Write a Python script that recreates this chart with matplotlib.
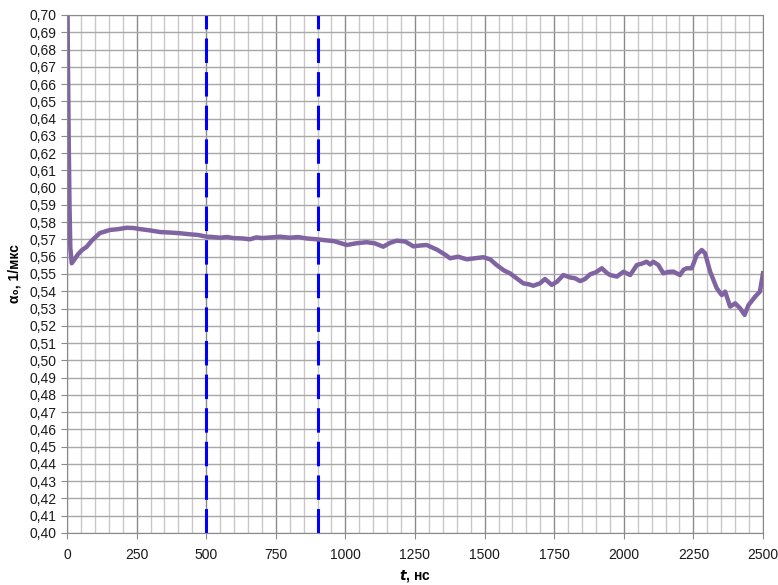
import numpy as np
import matplotlib.pyplot as plt
from matplotlib.ticker import MultipleLocator, FuncFormatter

# time, ns
t_ns = [0, 3, 6, 9, 12, 17, 25, 40, 55, 71, 90, 118, 155, 185, 215, 240, 262,
        300, 334, 370, 406, 440, 470, 502, 525, 550, 575, 597, 630, 657, 680,
        700, 735, 765, 800, 830, 860, 897, 930, 960, 990, 1005, 1040, 1076,
        1105, 1136, 1160, 1184, 1215, 1244, 1270, 1292, 1330, 1360, 1376, 1405,
        1436, 1470, 1495, 1520, 1543, 1570, 1591, 1615, 1639, 1660, 1675, 1699,
        1717, 1741, 1760, 1783, 1807, 1825, 1843, 1860, 1879, 1900, 1921, 1940,
        1951, 1975, 1999, 2023, 2047, 2065, 2082, 2095, 2106, 2124, 2142, 2160,
        2178, 2202, 2215, 2226, 2244, 2262, 2280, 2292, 2310, 2334, 2352, 2364,
        2382, 2400, 2418, 2434, 2448, 2472, 2489, 2500]
# decay rate alpha0, 1/us
alpha0 = [0.75, 0.68, 0.63, 0.59, 0.565, 0.5562, 0.558, 0.5615, 0.5640, 0.5658,
          0.5695, 0.5737, 0.5755, 0.5760, 0.5768, 0.5766, 0.5760, 0.5752,
          0.5743, 0.5740, 0.5736, 0.5730, 0.5726, 0.5716, 0.5714, 0.5710,
          0.5714, 0.5708, 0.5706, 0.5701, 0.5712, 0.5708, 0.5712, 0.5716,
          0.5710, 0.5714, 0.5706, 0.5701, 0.5695, 0.5690, 0.5675, 0.5668,
          0.5678, 0.5684, 0.5678, 0.5658, 0.5680, 0.5693, 0.5688, 0.5660,
          0.5665, 0.5668, 0.5640, 0.5610, 0.5591, 0.5600, 0.5585, 0.5592,
          0.5597, 0.5585, 0.5552, 0.5520, 0.5504, 0.5475, 0.5446, 0.5440,
          0.5432, 0.5446, 0.5471, 0.5437, 0.5455, 0.5494, 0.5480, 0.5475,
          0.5459, 0.5470, 0.5498, 0.5510, 0.5533, 0.5505, 0.5494, 0.5485,
          0.5513, 0.5494, 0.5552, 0.5560, 0.5571, 0.5555, 0.5571, 0.5552,
          0.5504, 0.5512, 0.5514, 0.5494, 0.5525, 0.5533, 0.5533, 0.5610,
          0.5639, 0.5620, 0.5514, 0.5417, 0.5378, 0.5398, 0.5311, 0.5330,
          0.5301, 0.5263, 0.5320, 0.5369, 0.5398, 0.5504]
# window boundaries
t_marks = [500, 900]

plt.rcParams['font.family'] = ['Liberation Sans', 'DejaVu Sans']

fig = plt.figure(figsize=(7.78, 5.85), dpi=100)
ax = fig.add_axes([0.0861, 0.0889, 0.8946, 0.8855])

ax.set_xlim(0, 2500)
ax.set_ylim(0.40, 0.70)

# grid: light minor verticals every 50, darker majors every 250, horizontals every 0.01
ax.xaxis.set_major_locator(MultipleLocator(250))
ax.xaxis.set_minor_locator(MultipleLocator(50))
ax.yaxis.set_major_locator(MultipleLocator(0.01))
ax.grid(which='minor', axis='x', color='#c8c8c8', lw=1.0)
ax.grid(which='major', axis='x', color='#8a8a8a', lw=1.0)
ax.grid(which='major', axis='y', color='#a8a8a8', lw=1.0)
ax.set_axisbelow(True)

ax.yaxis.set_major_formatter(FuncFormatter(lambda v, p: f"{v:.2f}".replace('.', ',')))
ax.tick_params(axis='both', which='major', direction='out', length=4,
               color='#8a8a8a', labelsize=10, labelcolor='#1a1a1a')
ax.tick_params(axis='x', which='minor', length=0)
ax.tick_params(axis='x', pad=7)
for side in ['left', 'bottom', 'top', 'right']:
    ax.spines[side].set_color('#8a8a8a')

for tm in t_marks:
    ax.axvline(tm, color='#0000ff', lw=2.2, dashes=(8, 3))

ax.plot(t_ns, alpha0, color='#8064a2', lw=3.2, solid_joinstyle='round')

fig.text(415 / 778, 1 - 576 / 585, r'$\mathbfit{t}$, нс', fontsize=10,
         fontweight='bold', ha='center', va='center')
ax.set_ylabel('α₀, 1/мкс', fontsize=10, fontweight='bold', labelpad=6)

fig.savefig('out.png', dpi=100)
